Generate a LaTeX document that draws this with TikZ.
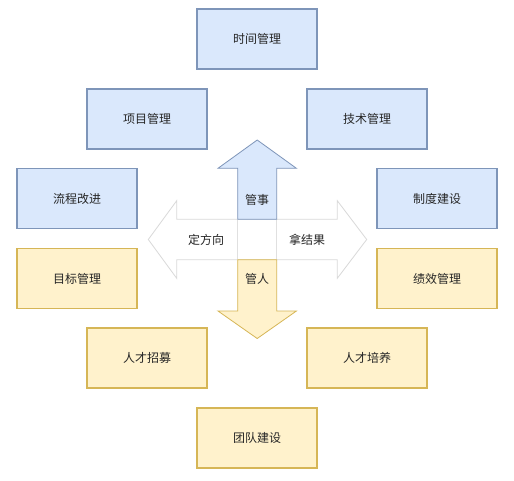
\documentclass[tikz,border=0pt]{standalone}
\usepackage{fontspec}
\setmainfont{Noto Sans CJK SC}
\begin{document}
\begin{tikzpicture}[x=1pt,y=-1pt,
  box/.style={draw, line width=1.1pt, minimum width=120pt, minimum height=60pt, font=\fontsize{12}{14}\selectfont, text=black!85, inner sep=0pt},
  bluebox/.style={box, fill=blueF, draw=blueD},
  yellowbox/.style={box, fill=yelF, draw=yelD},
  lbl/.style={font=\fontsize{12}{14}\selectfont, text=black!85, inner sep=0pt},
  whitearrow/.style={fill=white, draw=black!15, line width=0.8pt, line join=miter},
  bluearrow/.style={fill=blueF, draw=blueD, line width=0.8pt, line join=miter},
  yelarrow/.style={fill=yelF, draw=yelD, line width=0.8pt, line join=miter}]
\definecolor{blueF}{HTML}{DAE8FC}
\definecolor{blueD}{HTML}{7E95B9}
\definecolor{yelF}{HTML}{FFF2CC}
\definecolor{yelD}{HTML}{D6B656}
\useasboundingbox (0,0) rectangle (514,480);
\fill[white] (0,0) rectangle (514,480);
% boxes
\node[bluebox] (time) at (257,39) {时间管理};
\node[bluebox] (proj) at (147,119) {项目管理};
\node[bluebox] (tech) at (367,119) {技术管理};
\node[bluebox] (proc) at (77,198.5) {流程改进};
\node[bluebox] (rule) at (437,198.5) {制度建设};
\node[yellowbox] (goal) at (77,278.5) {目标管理};
\node[yellowbox] (perf) at (437,278.5) {绩效管理};
\node[yellowbox] (hire) at (147,358) {人才招募};
\node[yellowbox] (grow) at (367,358) {人才培养};
\node[yellowbox] (team) at (257,438) {团队建设};
% white double arrow
\draw[whitearrow] (148.3,239.5) -- (176.7,200.7) -- (176.7,219.3) -- (337.3,219.3) -- (337.3,200.7)
  -- (366.7,239.5) -- (337.3,278.3) -- (337.3,259.7) -- (176.7,259.7) -- (176.7,278.3) -- cycle;
\draw[black!12, line width=0.6pt] (237.7,219.3) -- (237.7,259.7) (276.7,219.3) -- (276.7,259.7);
% up arrow
\draw[bluearrow] (237.7,219.3) -- (237.7,168.3) -- (218,168.3) -- (257.2,140) -- (296.4,168.3) -- (276.7,168.3) -- (276.7,219.3) -- cycle;
% down arrow
\draw[yelarrow] (237.7,259.7) -- (237.7,311) -- (218,311) -- (257.2,338.5) -- (296.4,311) -- (276.7,311) -- (276.7,259.7) -- cycle;
% labels
\node[lbl] (guanshi) at (257.2,200) {管事};
\node[lbl] (guanren) at (257.2,279) {管人};
\node[lbl] (dfx) at (206,240) {定方向};
\node[lbl] (njg) at (307,240) {拿结果};
\end{tikzpicture}
\end{document}
